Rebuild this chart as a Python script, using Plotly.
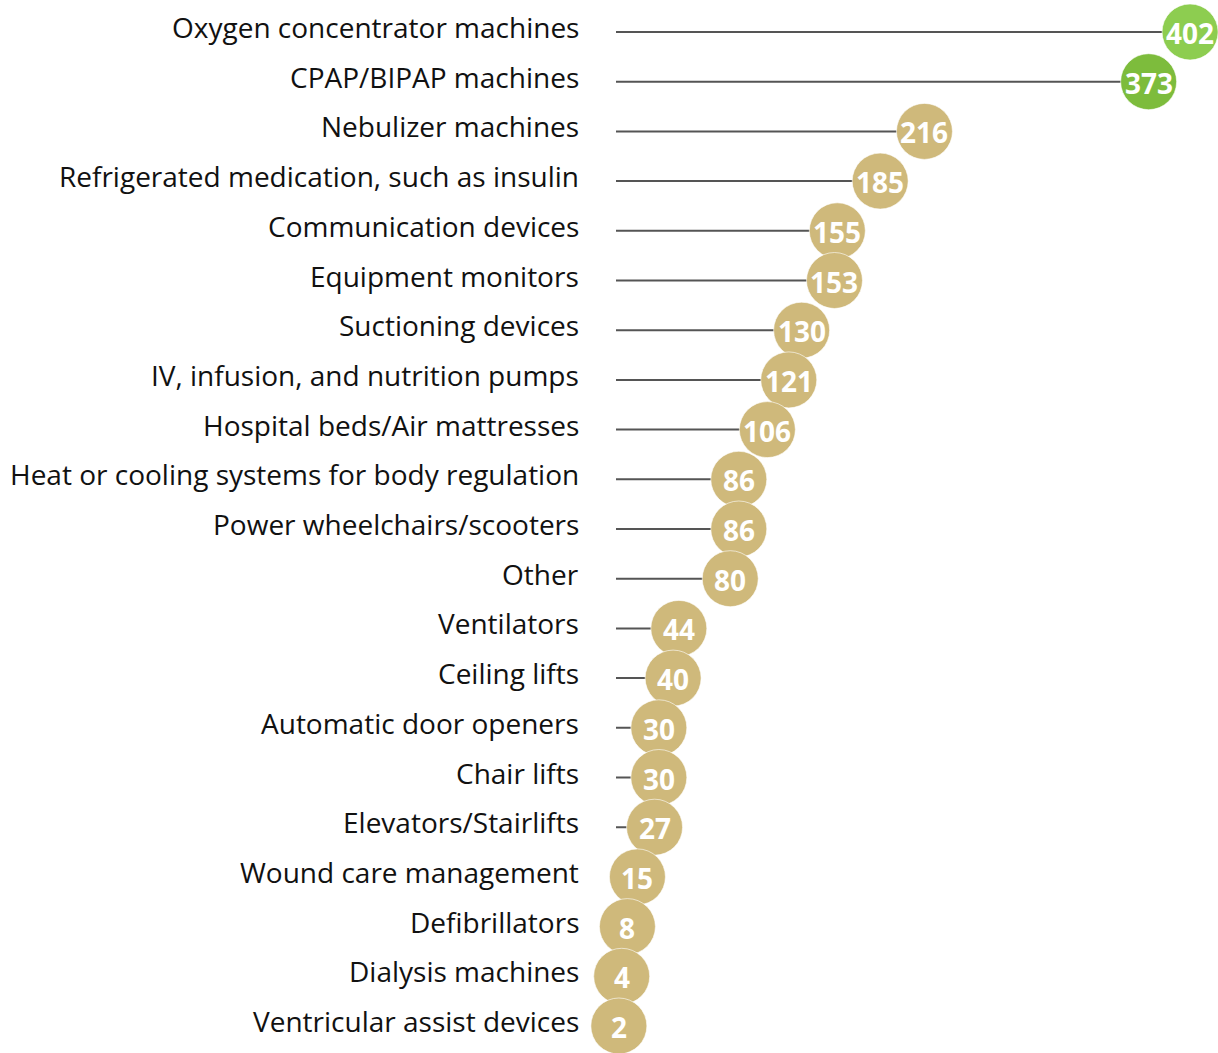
import plotly.graph_objects as go

# Equipment categories and counts, top to bottom
categories = [
    "Oxygen concentrator machines",
    "CPAP/BIPAP machines",
    "Nebulizer machines",
    "Refrigerated medication, such as insulin",
    "Communication devices",
    "Equipment monitors",
    "Suctioning devices",
    "IV, infusion, and nutrition pumps",
    "Hospital beds/Air mattresses",
    "Heat or cooling systems for body regulation",
    "Power wheelchairs/scooters",
    "Other",
    "Ventilators",
    "Ceiling lifts",
    "Automatic door openers",
    "Chair lifts",
    "Elevators/Stairlifts",
    "Wound care management",
    "Defibrillators",
    "Dialysis machines",
    "Ventricular assist devices",
]
counts = [402, 373, 216, 185, 155, 153, 130, 121, 106, 86, 86, 80, 44, 40, 30, 30, 27, 15, 8, 4, 2]
highlight_colors = {0: "#8DCD50", 1: "#7DBC3C"}
base_color = "#CFB97B"

rows = list(range(len(categories)))
colors = [highlight_colors.get(i, base_color) for i in rows]

# Stems: one trace with gaps between rows
stem_x, stem_y = [], []
for i, v in zip(rows, counts):
    stem_x += [0, v, None]
    stem_y += [i, i, None]

fig = go.Figure()
fig.add_trace(go.Scatter(
    x=stem_x, y=stem_y, mode="lines",
    line=dict(color="#555555", width=2),
    hoverinfo="skip", showlegend=False, cliponaxis=False,
))
fig.add_trace(go.Scatter(
    x=counts, y=rows, mode="markers",
    marker=dict(size=56, color=colors, line=dict(color="rgba(255,255,255,0.6)", width=1)),
    showlegend=False, cliponaxis=False,
))

# Value labels inside the circles
for i, v in zip(rows, counts):
    fig.add_annotation(
        x=v, y=i, xref="x", yref="y", text=str(v), showarrow=False,
        xanchor="center", yanchor="middle", yshift=-1,
        font=dict(family="Open Sans", size=28, color="white", weight="bold"),
    )

# Category labels to the left of the stems
for i, name in zip(rows, categories):
    fig.add_annotation(
        x=0, y=i, xref="x", yref="y", text=name, showarrow=False,
        xanchor="right", yanchor="middle", xshift=-35, yshift=5,
        font=dict(family="Open Sans", size=28, color="#111111"),
    )

px_per_unit = 1.428
plot_w = 1218 - 616
row_px = 49.7
first_row_px = 32

fig.update_layout(
    width=1218, height=1053,
    margin=dict(l=616, r=0, t=0, b=0),
    paper_bgcolor="white", plot_bgcolor="white",
    xaxis=dict(range=[0, plot_w / px_per_unit], visible=False, fixedrange=True),
    yaxis=dict(range=[(1053 - first_row_px) / row_px, -first_row_px / row_px],
               visible=False, fixedrange=True),
)

fig.write_html("out.html")
